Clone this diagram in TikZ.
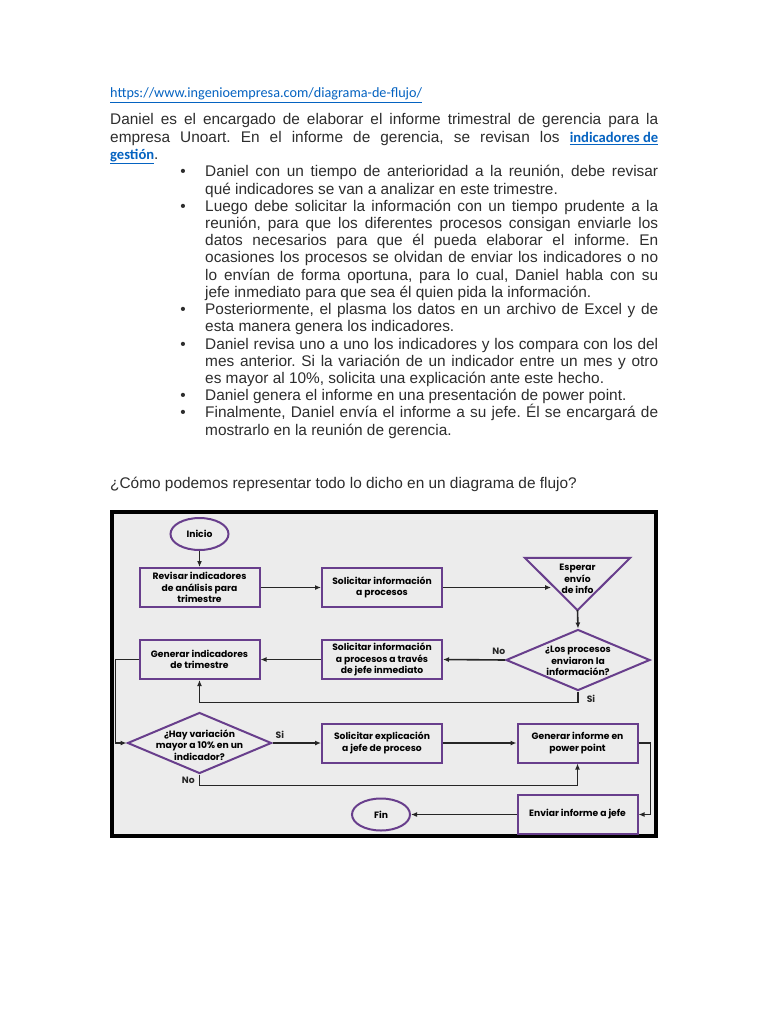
\documentclass[tikz,border=0pt]{standalone}
\usepackage{fontspec}
\setmainfont{Liberation Sans}
\newfontfamily\linkfont{Carlito}
\newfontfamily\flowfont{Poppins}
\usepackage{tikz}
\usetikzlibrary{positioning,shapes.geometric,arrows.meta,calc}
\definecolor{link_c}{RGB}{5,99,193}
\definecolor{flow_c}{RGB}{104,62,140}
\definecolor{panel_c}{RGB}{236,236,236}
\definecolor{body_c}{RGB}{45,45,45}
\newcommand{\linkword}[1]{{\linkfont\bfseries\fontsize{14.6}{17.2}\selectfont\color{link_c}\underline{#1}}}
\frenchspacing

\begin{document}
\begin{tikzpicture}[x=1pt, y=-1pt,
  every node/.style={inner sep=0pt},
  para/.style={font=\fontsize{15.4}{17.2}\selectfont, text=body_c, anchor=base west},
  item/.style={para, text width=453pt, align=justify},
  bul/.style={font=\fontsize{15.4}{17.2}\selectfont, text=body_c, anchor=base},
  lnk/.style={font=\linkfont\fontsize{14.2}{17.2}\selectfont, text=link_c, anchor=base west},
  fl/.style={font=\flowfont\bfseries\fontsize{9.2}{11.5}\selectfont, align=center},
  pbox/.style={fl, draw=flow_c, line width=2pt, minimum width=120pt, minimum height=39pt},
  term/.style={fl, ellipse, draw=flow_c, line width=2pt, minimum width=58pt, minimum height=32pt},
  dec/.style={diamond, draw=flow_c, line width=2pt, minimum width=144pt, minimum height=61pt},
  lbl/.style={fl},
  arr/.style={-{Latex[length=6pt,width=5pt]}, line width=1.6pt, black!85},
]
\useasboundingbox (0,0) rectangle (768,1024);
\fill[white] (0,0) rectangle (768,1024);

\node[lnk] (url) at (110,98) {\underline{https://www.ingenioempresa.com/diagrama-de-flujo/}};
\node[para, text width=548pt, align=justify] (intro) at (110,125) {Daniel es el encargado de elaborar el informe trimestral de gerencia para la\linebreak empresa Unoart. En el informe de gerencia, se revisan los \linkword{indicadores de}\linebreak \linkword{gestión}.};

\node[bul] (b1) at (183,177) {\textbullet};
\node[item] (i1) at (205,177) {Daniel con un tiempo de anterioridad a la reunión, debe revisar\linebreak qué indicadores se van a analizar en este trimestre.};
\node[bul] (b2) at (183,211.4) {\textbullet};
\node[item] (i2) at (205,211.4) {Luego debe solicitar la información con un tiempo prudente a la\linebreak reunión, para que los diferentes procesos consigan enviarle los\linebreak datos necesarios para que él pueda elaborar el informe. En\linebreak ocasiones los procesos se olvidan de enviar los indicadores o no\linebreak lo envían de forma oportuna, para lo cual, Daniel habla con su\linebreak jefe inmediato para que sea él quien pida la información.};
\node[bul] (b3) at (183,314.6) {\textbullet};
\node[item] (i3) at (205,314.6) {Posteriormente, el plasma los datos en un archivo de Excel y de\linebreak esta manera genera los indicadores.};
\node[bul] (b4) at (183,349) {\textbullet};
\node[item] (i4) at (205,349) {Daniel revisa uno a uno los indicadores y los compara con los del\linebreak mes anterior. Si la variación de un indicador entre un mes y otro\linebreak es mayor al 10\%, solicita una explicación ante este hecho.};
\node[bul] (b5) at (183,400.6) {\textbullet};
\node[item] (i5) at (205,400.6) {Daniel genera el informe en una presentación de power point.};
\node[bul] (b6) at (183,417.8) {\textbullet};
\node[item] (i6) at (205,417.8) {Finalmente, Daniel envía el informe a su jefe. Él se encargará de\linebreak mostrarlo en la reunión de gerencia.};

\node[para] (quest) at (110,488) {¿Cómo podemos representar todo lo dicho en un diagrama de flujo?};

\draw[line width=4pt, fill=panel_c] (112,512) rectangle (656,836);

\node[term] (ini) at (199.5,534) {Inicio};
\node[pbox] (rev) at (199.5,587.5) {Revisar indicadores\\de análisis para\\trimestre};
\node[pbox] (sol) at (382,587.5) {Solicitar información\\a procesos};
\node[minimum width=105pt, minimum height=52pt,
      label={[fl, yshift=5pt]center:Esperar\\envío\\de info}] (esp) at (577.5,584) {};
\draw[flow_c, line width=2pt] (esp.north west) -- (esp.north east) -- (esp.south) -- cycle;
\node[dec, label={[fl, yshift=-1pt]center:¿Los procesos\\enviaron la\\información?}] (los) at (578,660) {};
\node[pbox] (jef) at (382,659.5) {Solicitar información\\a procesos a través\\de jefe inmediato};
\node[pbox] (gen) at (199.5,659.5) {Generar indicadores\\de trimestre};
\node[dec, label={[fl, yshift=-2pt]center:¿Hay variación\\mayor a 10\% en un\\indicador?}] (hay) at (199.5,743) {};
\node[pbox] (exp) at (382,743) {Solicitar explicación\\a jefe de proceso};
\node[pbox] (inf) at (577.5,743) {Generar informe en\\power point};
\node[pbox] (env) at (577.5,814.5) {Enviar informe a jefe};
\node[term] (fin) at (381,814.5) {Fin};

\coordinate (espin) at ($(esp.north west)!.5!(esp.south)$);
\draw[arr] (ini.south) -- (rev.north);
\draw[arr] (rev) -- (sol);
\draw[arr] (sol.east) -- (sol.east -| espin);
\draw[arr] (esp.south) -- (los.north);
\draw[arr] (los.west) -- node[lbl, pos=.1, anchor=south, yshift=5pt] {No} (jef.east);
\draw[arr] (jef) -- (gen);
\draw[arr] (los.south) -- ++(0,11) node[lbl, anchor=west, xshift=8pt, yshift=4pt] {Si} -| (gen.south);
\draw[arr] (gen.west) -- ++(-23,0) |- (hay.west);
\draw[arr] (hay.east) -- node[lbl, pos=.15, anchor=south, yshift=4pt] {Si} (exp.west);
\draw[arr] (exp) -- (inf);
\draw[arr] (hay.south) -- node[lbl, anchor=east, xshift=-4pt] {No} ++(0,11) -| (inf.south);
\draw[arr] (inf.east) -- ++(12,0) |- (env.east);
\draw[arr] (env) -- (fin);
\end{tikzpicture}
\end{document}
